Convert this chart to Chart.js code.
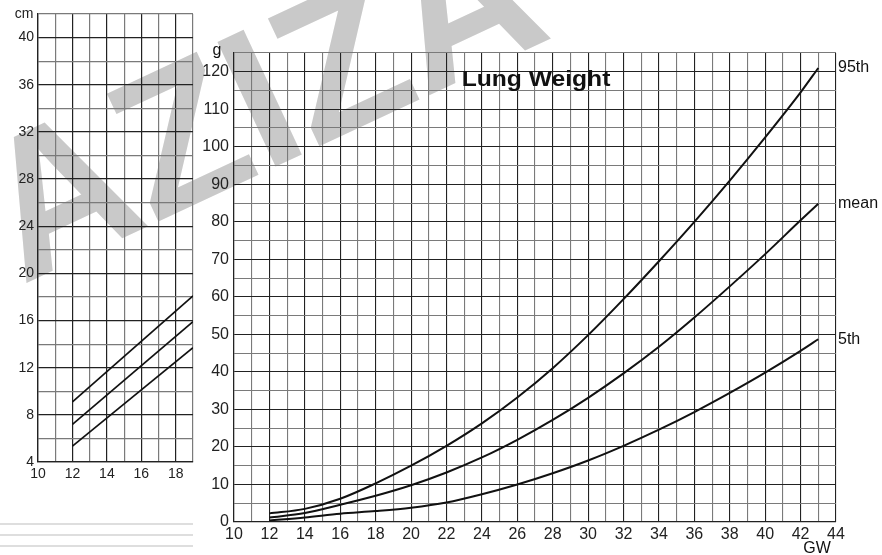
<!DOCTYPE html>
<html>
<head>
<meta charset="utf-8">
<script src="https://cdn.jsdelivr.net/npm/chart.js@4.4.1/dist/chart.umd.min.js"></script>
<style>
  html, body { margin: 0; padding: 0; background: #fff; }
  #contenedor { position: relative; width: 882px; height: 555px; overflow: hidden; background: #fff; }
  #contenedor canvas { position: absolute; left: 0; top: 0; }
  .raya { position: absolute; left: 0; width: 193px; height: 2px; background: #dedede; }
</style>
</head>
<body>
<div id="contenedor">
  <canvas id="marcaAgua" width="882" height="555"></canvas>
  <div class="raya" style="top:523px"></div>
  <div class="raya" style="top:534px"></div>
  <div class="raya" style="top:545px"></div>
  <canvas id="graficaLongitud" width="200" height="480"></canvas>
  <canvas id="graficaPeso" width="882" height="555"></canvas>
</div>
<script>
// Datos (semanas de gestacion vs peso pulmonar en g)
const semanas = [12, 14, 16, 18, 20, 22, 24, 26, 28, 30, 32, 34, 36, 38, 40, 42, 43];
const percentil95 = [2.3, 3.5, 6.2, 10.3, 15, 20.3, 26.3, 33.2, 41, 49.8, 59.4, 69.5, 80, 91, 102.5, 114.5, 121];
const media = [1.2, 2.4, 4.6, 7, 9.8, 13.2, 17.2, 21.9, 27.2, 33.1, 39.6, 46.7, 54.5, 62.8, 71.4, 80.4, 84.8];
const percentil5 = [0.4, 1.2, 2.2, 2.9, 3.8, 5.2, 7.4, 10, 13, 16.4, 20.3, 24.6, 29.3, 34.4, 39.8, 45.6, 48.7];
const nombresSeries = ['95th', 'mean', '5th'];

// Grafica recortada de la izquierda (cm)
const semanasLong = [12, 19];
const longSuperior = [9.1, 18.1];
const longMedia = [7.2, 15.9];
const longInferior = [5.35, 13.7];

const tituloGrafica = 'Lung Weight';
const fuente = '"Liberation Sans", Arial, Helvetica, sans-serif';

// Marca de agua gris detras de las dos graficas
function dibujarMarcaAgua() {
    let ctx = document.getElementById('marcaAgua').getContext('2d');
    ctx.save();
    ctx.translate(22, 285);
    ctx.rotate(-25 * Math.PI / 180);
    ctx.fillStyle = '#c9c9c9';
    ctx.font = 'bold 200px ' + fuente;
    ctx.fillText('AZIZA', 0, 0);
    ctx.restore();
}

function juntarPuntos(xs, ys) {
    return xs.map((x, i) => ({ x: x, y: ys[i] }));
}

function colorRejilla(par) {
    return function(context) {
        return par(context.tick.value) ? '#222' : '#7a7a7a';
    };
}

// Textos de la grafica principal: titulo, unidades y nombres de las curvas
const textosPeso = {
    id: 'textosPeso',
    afterDatasetsDraw(chart) {
        let ctx = chart.ctx;
        let area = chart.chartArea;
        ctx.save();
        ctx.fillStyle = '#111';

        ctx.font = 'bold 22px ' + fuente;
        ctx.textAlign = 'center';
        ctx.textBaseline = 'alphabetic';
        ctx.save();
        ctx.translate(area.left + 302, 86);
        ctx.scale(1.12, 1);
        ctx.fillText(tituloGrafica, 0, 0);
        ctx.restore();

        ctx.font = '16px ' + fuente;
        ctx.fillText('g', area.left - 17, 55);
        ctx.fillText('GW', area.right - 19, 553);

        ctx.textAlign = 'left';
        ctx.textBaseline = 'middle';
        chart.data.datasets.forEach((ds, i) => {
            let ultimo = chart.getDatasetMeta(i).data.at(-1);
            ctx.fillText(nombresSeries[i], area.right + 2, ultimo.y);
        });
        ctx.restore();
    }
};

const textoCm = {
    id: 'textoCm',
    afterDraw(chart) {
        let ctx = chart.ctx;
        ctx.save();
        ctx.fillStyle = '#222';
        ctx.font = '14px ' + fuente;
        ctx.textAlign = 'center';
        ctx.fillText('cm', 24, 18);
        ctx.restore();
    }
};

function crearGraficaPeso() {
    let ctx = document.getElementById('graficaPeso').getContext('2d');
    let linea = { borderColor: '#111', borderWidth: 2, pointRadius: 0, fill: false, cubicInterpolationMode: 'monotone' };

    new Chart(ctx, {
        type: 'line',
        data: {
            datasets: [
                Object.assign({ label: nombresSeries[0], data: juntarPuntos(semanas, percentil95) }, linea),
                Object.assign({ label: nombresSeries[1], data: juntarPuntos(semanas, media) }, linea),
                Object.assign({ label: nombresSeries[2], data: juntarPuntos(semanas, percentil5) }, linea)
            ]
        },
        options: {
            responsive: false,
            animation: false,
            devicePixelRatio: 1,
            layout: { padding: { left: 194, right: 46, top: 53, bottom: 13 } },
            plugins: { legend: { display: false }, tooltip: { enabled: false } },
            scales: {
                x: {
                    type: 'linear',
                    min: 10,
                    max: 44,
                    afterFit: (scale) => { scale.height = 20; },
                    ticks: {
                        stepSize: 1,
                        autoSkip: false,
                        maxRotation: 0,
                        padding: 3,
                        color: '#222',
                        font: { family: fuente, size: 16 },
                        callback: (v) => (v % 2 === 0 ? v : '')
                    },
                    grid: { color: colorRejilla(v => v % 2 === 0), lineWidth: 1.1, drawTicks: false },
                    border: { color: '#222', width: 1.2 }
                },
                y: {
                    min: 0,
                    max: 125,
                    afterFit: (scale) => { scale.width = 40; },
                    ticks: {
                        stepSize: 5,
                        autoSkip: false,
                        padding: 5,
                        color: '#222',
                        font: { family: fuente, size: 16 },
                        callback: (v) => (v % 10 === 0 ? v : '')
                    },
                    grid: { color: colorRejilla(v => v % 10 === 0), lineWidth: 1.1, drawTicks: false },
                    border: { color: '#222', width: 1.2 }
                }
            }
        },
        plugins: [textosPeso]
    });
}

function crearGraficaLongitud() {
    let ctx = document.getElementById('graficaLongitud').getContext('2d');
    let linea = { borderColor: '#111', borderWidth: 1.7, pointRadius: 0, fill: false };

    new Chart(ctx, {
        type: 'line',
        data: {
            datasets: [
                Object.assign({ data: juntarPuntos(semanasLong, longSuperior) }, linea),
                Object.assign({ data: juntarPuntos(semanasLong, longMedia) }, linea),
                Object.assign({ data: juntarPuntos(semanasLong, longInferior) }, linea)
            ]
        },
        options: {
            responsive: false,
            animation: false,
            devicePixelRatio: 1,
            layout: { padding: { left: 0, right: 7, top: 14, bottom: 0 } },
            plugins: { legend: { display: false }, tooltip: { enabled: false } },
            scales: {
                x: {
                    type: 'linear',
                    min: 10,
                    max: 19,
                    afterFit: (scale) => { scale.height = 18; },
                    ticks: {
                        stepSize: 1,
                        autoSkip: false,
                        maxRotation: 0,
                        padding: 4,
                        color: '#222',
                        font: { family: fuente, size: 14 },
                        callback: (v) => (v % 2 === 0 ? v : '')
                    },
                    grid: { color: colorRejilla(v => v % 2 === 0), lineWidth: 1.2, drawTicks: false },
                    border: { color: '#222', width: 1.3 }
                },
                y: {
                    min: 4,
                    max: 42,
                    afterFit: (scale) => { scale.width = 38; },
                    ticks: {
                        stepSize: 2,
                        autoSkip: false,
                        padding: 4,
                        color: '#222',
                        font: { family: fuente, size: 14 },
                        callback: (v) => (v % 4 === 0 ? v : '')
                    },
                    grid: { color: colorRejilla(v => v % 4 === 0), lineWidth: 1.2, drawTicks: false },
                    border: { color: '#222', width: 1.3 }
                }
            }
        },
        plugins: [textoCm]
    });
}

dibujarMarcaAgua();
crearGraficaLongitud();
crearGraficaPeso();
</script>
</body>
</html>
